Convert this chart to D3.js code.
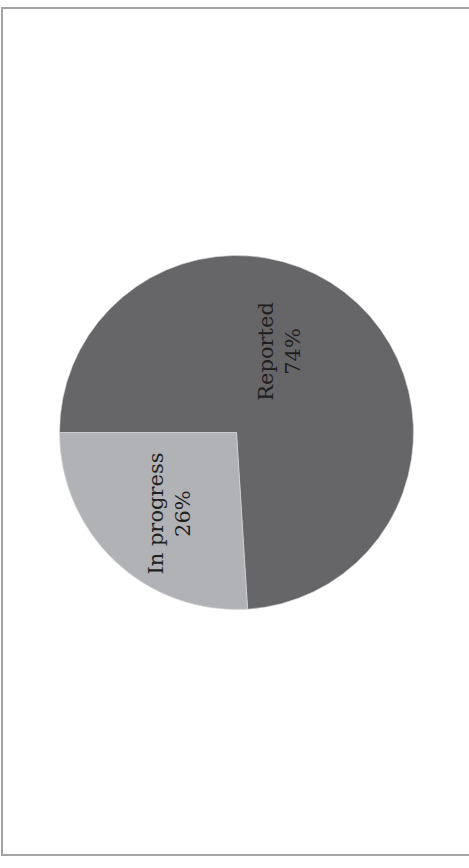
<!DOCTYPE html>
<html>
<head>
<meta charset="utf-8">
<script src="https://cdn.jsdelivr.net/npm/d3@7"></script>
<style>
  html, body { margin: 0; padding: 0; background: #fff; }
  svg { display: block; }
</style>
</head>
<body>
<div id="chart"></div>
<script>
// chart data
var categories = ['Reported', 'In progress'];
var values = [74, 26];
var colors = ['#666568', '#b1b2b6'];

var width = 469, height = 868;
var cx = 236.5, cy = 432.5, radius = 177;

var svg = d3.select('#chart').append('svg')
    .attr('width', width)
    .attr('height', height);

// frame (right edge runs off the page)
svg.append('rect')
    .attr('x', 2).attr('y', 8)
    .attr('width', width + 10).attr('height', 847)
    .attr('fill', 'none')
    .attr('stroke', '#a3a3a3')
    .attr('stroke-width', 2);

var data = categories.map(function(c, i){ return {name: c, value: values[i], color: colors[i]}; });

var pie = d3.pie().sort(null).value(function(d){ return d.value; });
var arc = d3.arc().innerRadius(0).outerRadius(radius);
var labelArc = d3.arc().innerRadius(98).outerRadius(98);
var labelShift = -9 * Math.PI / 180;

// whole pie is turned a quarter turn counter-clockwise
var g = svg.append('g')
    .attr('transform', 'translate(' + cx + ',' + cy + ') rotate(-90)');

var slices = g.selectAll('g.slice').data(pie(data)).enter().append('g').attr('class', 'slice');

slices.append('path')
    .attr('d', arc)
    .style('fill', function(d){ return d.data.color; })
    .style('stroke', '#d8d8da')
    .style('stroke-width', 0.6);

var labels = slices.append('text')
    .attr('transform', function(d){
        var a = (d.startAngle + d.endAngle) / 2 + labelShift;
        var p = labelArc.centroid({startAngle: a, endAngle: a});
        return 'translate(' + p[0] + ',' + p[1] + ')';
    })
    .style('font-family', '"DejaVu Serif", serif')
    .style('font-size', '21px')
    .style('fill', '#1f1f1f')
    .attr('text-anchor', 'middle');

labels.append('tspan')
    .attr('x', 0).attr('dy', '-0.88em')
    .text(function(d){ return d.data.name; });
labels.append('tspan')
    .attr('x', 0).attr('dy', '1.3em')
    .text(function(d){ return d.data.value + '%'; });
</script>
</body>
</html>
